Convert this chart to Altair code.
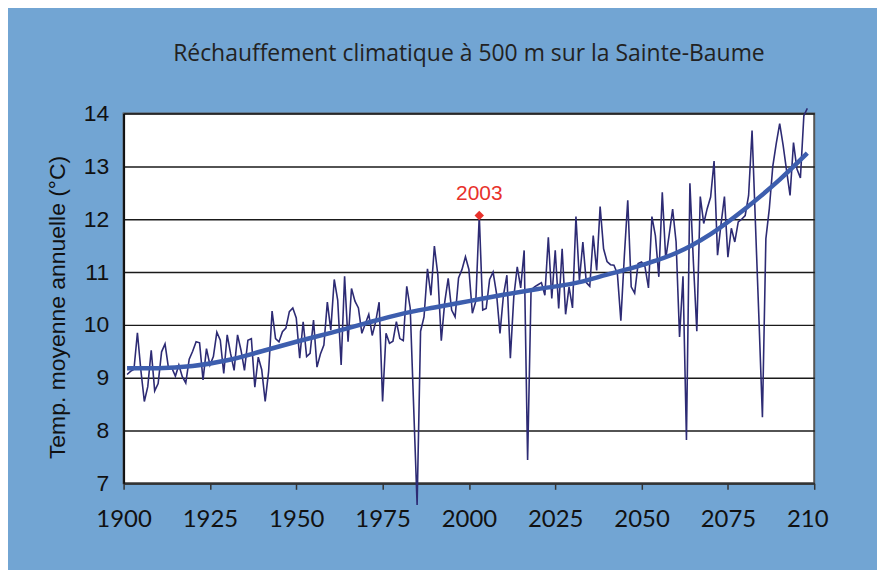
import altair as alt
import pandas as pd

# ---- data ----
years = list(range(1901, 2099))
temps = [
    9.06, 9.12, 9.16, 9.85, 9.14, 8.55, 8.83, 9.52, 8.75, 8.89,   # 1901-1910
    9.49, 9.64, 9.18, 9.18, 9.03, 9.24, 9.02, 8.90, 9.35, 9.50,   # 1911-1920
    9.68, 9.66, 8.96, 9.55, 9.24, 9.40, 9.86, 9.71, 9.08, 9.81,   # 1921-1930
    9.45, 9.14, 9.81, 9.52, 9.14, 9.71, 9.74, 8.82, 9.39, 9.15,   # 1931-1940
    8.55, 9.12, 10.26, 9.74, 9.68, 9.87, 9.94, 10.25, 10.32, 10.13,  # 1941-1950
    9.37, 10.06, 9.40, 9.46, 10.09, 9.20, 9.45, 9.62, 10.43, 9.90,   # 1951-1960
    10.86, 10.47, 9.24, 10.92, 9.68, 10.69, 10.45, 10.32, 9.84, 10.02,  # 1961-1970
    10.20, 9.80, 10.06, 10.43, 8.55, 9.84, 9.65, 9.69, 10.06, 9.74,   # 1971-1980
    9.70, 10.73, 10.32, 8.45, 6.59, 9.88, 10.15, 11.06, 10.56, 11.49,  # 1981-1990
    10.95, 9.70, 10.43, 10.88, 10.28, 10.15, 10.89, 11.05, 11.29, 11.05,  # 1991-2000
    10.22, 10.45, 12.07, 10.28, 10.31, 10.86, 11.00, 10.59, 9.84, 10.56,  # 2001-2010
    10.94, 9.37, 10.53, 11.10, 10.70, 11.41, 7.44, 10.66, 10.72, 10.76,  # 2011-2020
    10.80, 10.56, 11.66, 10.50, 11.41, 10.31, 11.44, 10.20, 10.72, 10.32,  # 2021-2030
    12.05, 10.84, 11.57, 10.80, 10.73, 11.69, 11.03, 12.24, 11.44, 11.20,  # 2031-2040
    11.14, 11.13, 10.97, 10.08, 11.29, 12.36, 10.72, 10.60, 11.16, 11.19,  # 2041-2050
    11.10, 10.70, 12.05, 11.69, 10.91, 12.51, 11.25, 11.71, 12.19, 11.57,  # 2051-2060
    9.77, 10.92, 7.82, 12.68, 11.20, 9.88, 12.43, 11.92, 12.20, 12.42,   # 2061-2070
    13.10, 11.32, 11.90, 12.43, 11.28, 11.83, 11.57, 11.95, 12.00, 12.07,  # 2071-2080
    12.45, 13.68, 11.88, 10.10, 8.25, 11.63, 12.20, 13.00, 13.43, 13.81,  # 2081-2090
    13.40, 12.92, 12.45, 13.45, 12.95, 12.78, 13.96, 14.10,              # 2091-2098
]

trend_years = [1901, 1910, 1920, 1930, 1940, 1950, 1960, 1970, 1980, 1990, 2000,
               2010, 2020, 2030, 2040, 2050, 2060, 2070, 2080, 2090, 2098]
trend_vals = [9.18, 9.18, 9.22, 9.33, 9.50, 9.68, 9.85, 10.03, 10.20, 10.33, 10.45,
              10.57, 10.68, 10.78, 10.95, 11.13, 11.36, 11.72, 12.20, 12.75, 13.25]

mark_year = [2003]
mark_val = [12.07]
mark_text = ["2003"]

x_ticks = [1900, 1925, 1950, 1975, 2000, 2025, 2050, 2075, 2100]
y_ticks = [7, 8, 9, 10, 11, 12, 13, 14]

TITLE = "Réchauffement climatique à 500 m sur la Sainte-Baume"
Y_TITLE = "Temp. moyenne annuelle (°C)"

df = pd.DataFrame({"year": years, "temp": temps})
df_trend = pd.DataFrame({"year": trend_years, "temp": trend_vals})
df_mark = pd.DataFrame({"year": mark_year, "temp": mark_val, "label": mark_text})

x_scale = alt.Scale(domain=[1900, 2100], nice=False, zero=False)
y_scale = alt.Scale(domain=[7, 14], nice=False, zero=False)

x_axis = alt.Axis(
    values=x_ticks, format="d", title=None, grid=False,
    labelExpr="datum.value == 2100 ? '210' : datum.label",
    labelOffset=alt.condition("datum.value == 2100", alt.value(-7), alt.value(0)),
    labelFlush=False, labelOverlap=False,
    labelFont="Lato", labelFontSize=24, labelColor="#111111",
    labelPadding=18, tickSize=6, tickWidth=1.5, tickColor="#333333",
    domainColor="#333333", domainWidth=2,
)
y_axis = alt.Axis(
    values=y_ticks, title=Y_TITLE, grid=True, gridColor="#1a1a1a", gridWidth=1.5,
    labelFont="Liberation Sans", labelFontSize=23, labelColor="#111111",
    labelPadding=15, ticks=False, domainColor="#111111", domainWidth=2,
    labelFlush=False,
    titleFont="Liberation Sans", titleFontSize=23, titleFontWeight="normal",
    titleColor="#111111", titleAngle=-90, titleAlign="center",
    titleBaseline="middle", titleX=-66, titleY=194,
)

X = alt.X("year:Q", scale=x_scale, axis=x_axis)
Y = alt.Y("temp:Q", scale=y_scale, axis=y_axis)

base_line = alt.Chart(df).mark_line(
    color="#2d2b74", strokeWidth=1.6, clip=False
).encode(x=X, y=Y)

trend = alt.Chart(df_trend).mark_line(
    color="#3d5eae", strokeWidth=4.5, interpolate="monotone"
).encode(x=X, y=Y)

point = alt.Chart(df_mark).mark_point(
    shape="diamond", filled=True, color="#e8322b", size=90, opacity=1
).encode(x=X, y=Y)

label = alt.Chart(df_mark).mark_text(
    color="#e8322b", font="Liberation Sans", fontSize=21, dy=-22, baseline="middle"
).encode(x=X, y=Y, text="label:N")

chart = alt.layer(base_line, trend, point, label).properties(
    width=693,
    height=371,
    title=alt.TitleParams(
        TITLE, font="Open Sans", fontSize=23, fontWeight="normal",
        color="#222222", anchor="middle", offset=37,
    ),
    padding={"left": 116, "top": 105, "right": 63, "bottom": 86},
    autosize=alt.AutoSizeParams(type="none"),
).configure(
    background="#72a5d3",
).configure_view(
    stroke="#555555", strokeWidth=2, fill="white",
)

chart.save("out.html", embed_options={"renderer": "svg", "actions": False})
